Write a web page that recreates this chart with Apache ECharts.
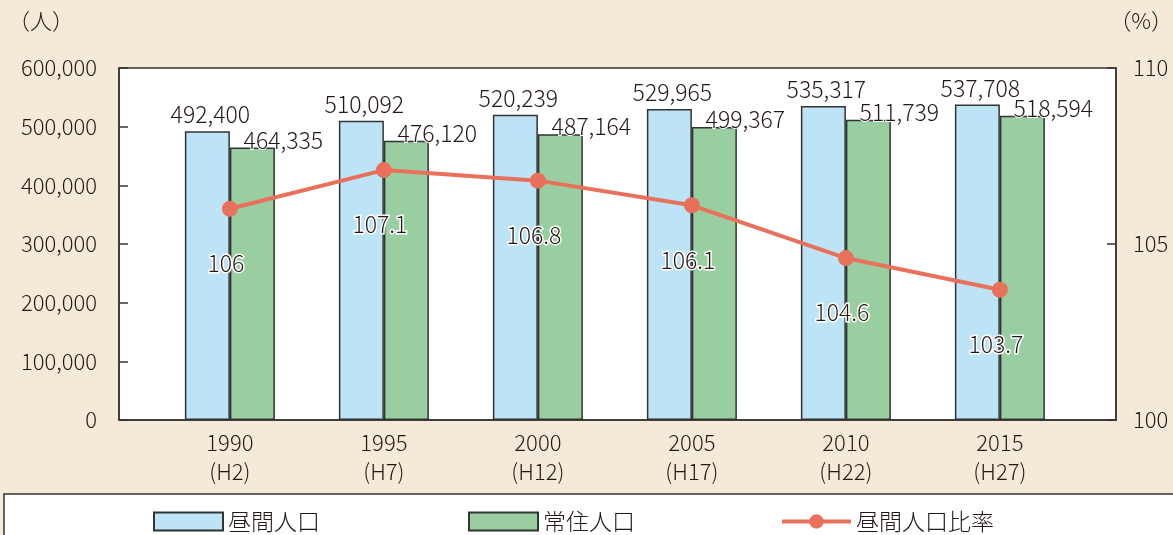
<!DOCTYPE html>
<html>
<head>
<meta charset="utf-8">
<script src="https://cdn.jsdelivr.net/npm/echarts@6/dist/echarts.min.js"></script>
<style>
  html, body { margin: 0; padding: 0; background: #f5ead8; }
  #chart { width: 1173px; height: 535px; }
</style>
</head>
<body>
<div id="chart"></div>
<script>
// データ
var years = [1990, 1995, 2000, 2005, 2010, 2015];
var eraLabels = ['H2', 'H7', 'H12', 'H17', 'H22', 'H27'];
var daytimePop = [492400, 510092, 520239, 529965, 535317, 537708];
var residentPop = [464335, 476120, 487164, 499367, 511739, 518594];
var daytimeRatio = [106, 107.1, 106.8, 106.1, 104.6, 103.7];
var leftTicks = [0, 100000, 200000, 300000, 400000, 500000, 600000];
var rightTicks = [100, 105, 110];

(function () {
  var myChart = echarts.init(document.getElementById('chart'));
  var font = '"Noto Sans CJK JP", "Noto Sans", sans-serif';
  var textColor = '#231815';
  var weight = 300;

  function pairs(arr) {
    return years.map(function (y, i) { return [y, arr[i]]; });
  }
  function fmtNum(v) {
    return Number(v).toLocaleString('en-US');
  }
  // 凡例の共通スタイル
  function legendAt(name, left, icon) {
    var lg = {
      data: [name], left: left, top: 505,
      itemWidth: 69, itemHeight: 18, itemGap: 8,
      textStyle: { fontSize: 23, color: textColor, fontFamily: font, fontWeight: weight }
    };
    if (icon) lg.icon = icon;
    return lg;
  }

  var option = {
    backgroundColor: '#f5ead8',
    animation: false,
    textStyle: { fontFamily: font, color: textColor, fontWeight: weight },
    grid: {
      left: 119,
      right: 57,
      top: 68,
      bottom: 115,
      show: true,
      backgroundColor: '#fff',
      borderColor: '#333',
      borderWidth: 1.5
    },
    graphic: [
      {
        type: 'rect',
        z: 0,
        shape: { x: 4, y: 494, width: 1185, height: 60 },
        style: { fill: '#fff', stroke: '#333', lineWidth: 1.5 }
      },
      {
        type: 'text', left: 8, top: 10,
        style: { text: '（人）', font: weight + ' 22px ' + font, fill: textColor }
      },
      {
        type: 'text', right: 0, top: 10,
        style: { text: '（%）', font: weight + ' 22px ' + font, fill: textColor }
      }
    ],
    legend: [
      legendAt('昼間人口', 148, 'rect'),
      legendAt('常住人口', 463, 'rect'),
      (function () {
        var lg = legendAt('昼間人口比率', 775);
        lg.lineStyle = { width: 4 };
        return lg;
      })()
    ],
    xAxis: {
      type: 'value',
      min: 1986.4,
      max: 2018.77,
      splitLine: { show: false },
      axisTick: { show: false },
      axisLine: { show: true, lineStyle: { color: '#333', width: 1.5 } },
      axisLabel: {
        customValues: years,
        margin: 8,
        fontSize: 22,
        lineHeight: 29,
        fontWeight: weight,
        color: textColor,
        formatter: function (v) {
          var i = years.indexOf(v);
          return i < 0 ? '' : v + '\n(' + eraLabels[i] + ')';
        }
      }
    },
    yAxis: [
      {
        type: 'value',
        min: leftTicks[0],
        max: leftTicks[leftTicks.length - 1],
        interval: 100000,
        splitLine: { show: false },
        axisLine: { show: true, lineStyle: { color: '#333', width: 1.5 } },
        axisTick: { show: true, inside: true, length: 9, lineStyle: { color: '#333', width: 1.5 } },
        axisLabel: {
          fontSize: 22, color: textColor, margin: 22, fontWeight: weight,
          padding: [8, 0, 0, 0],
          formatter: fmtNum
        }
      },
      {
        type: 'value',
        min: rightTicks[0],
        max: rightTicks[rightTicks.length - 1],
        interval: 5,
        splitLine: { show: false },
        axisLine: { show: true, lineStyle: { color: '#333', width: 1.5 } },
        axisTick: { show: true, inside: true, length: 9, lineStyle: { color: '#333', width: 1.5 } },
        axisLabel: {
          fontSize: 22, color: textColor, margin: 17, fontWeight: weight,
          padding: [8, 0, 0, 0]
        }
      }
    ],
    series: [
      {
        name: '昼間人口',
        type: 'bar',
        data: pairs(daytimePop),
        barWidth: 45,
        barGap: '0%',
        itemStyle: { color: '#bde3f7', borderColor: '#333', borderWidth: 1.5 },
        label: {
          show: true,
          position: 'top',
          distance: 5,
          offset: [3, 0],
          fontSize: 23,
          fontWeight: weight,
          color: textColor,
          textBorderColor: '#fff',
          textBorderWidth: 2,
          formatter: function (p) { return fmtNum(p.value[1]); }
        }
      },
      {
        name: '常住人口',
        type: 'bar',
        data: pairs(residentPop),
        barWidth: 45,
        barGap: '0%',
        itemStyle: { color: '#99cfa0', borderColor: '#333', borderWidth: 1.5 },
        label: {
          show: true,
          position: 'top',
          distance: 0,
          offset: [31, 4],
          fontSize: 23,
          fontWeight: weight,
          color: textColor,
          textBorderColor: '#fff',
          textBorderWidth: 2,
          formatter: function (p) { return fmtNum(p.value[1]); }
        }
      },
      {
        name: '昼間人口比率',
        type: 'line',
        yAxisIndex: 1,
        data: pairs(daytimeRatio),
        symbol: 'circle',
        symbolSize: 16,
        lineStyle: { color: '#e9705a', width: 4 },
        itemStyle: { color: '#e9705a' },
        z: 5,
        label: {
          show: true,
          position: 'bottom',
          distance: 35,
          offset: [-4, 0],
          fontSize: 23,
          fontWeight: weight,
          color: textColor,
          textBorderColor: '#fff',
          textBorderWidth: 3,
          formatter: function (p) { return p.value[1]; }
        }
      }
    ]
  };

  myChart.setOption(option);
  window.addEventListener('resize', function () {
    myChart.resize();
  });
})();
</script>
</body>
</html>
